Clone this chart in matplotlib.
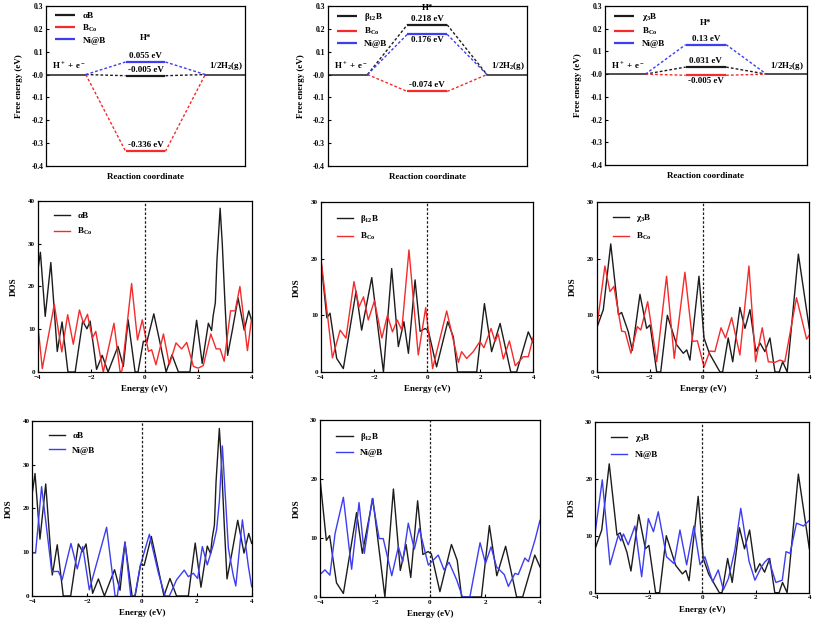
import numpy as np
import matplotlib
matplotlib.use('Agg')
import matplotlib.pyplot as plt

plt.rcParams['font.family'] = ['Liberation Serif', 'DejaVu Serif']
plt.rcParams['font.weight'] = 'bold'
plt.rcParams['axes.labelweight'] = 'bold'
plt.rcParams['mathtext.default'] = 'regular'

# ---- data: free energy of H* adsorption (eV) ----
fe_names = [['αB', 'B$_{Co}$', 'Ni@B'],
            ['β$_{12}$B', 'B$_{Co}$', 'Ni@B'],
            ['χ$_3$B', 'B$_{Co}$', 'Ni@B']]
fe_alpha = [-0.005, -0.336, 0.055]
fe_beta = [0.218, -0.074, 0.176]
fe_chi = [0.031, -0.005, 0.13]
fe_text = [['-0.005 eV', '-0.336 eV', '0.055 eV'],
           ['0.218 eV', '-0.074 eV', '0.176 eV'],
           ['0.031 eV', '-0.005 eV', '0.13 eV']]

# ---- data: DOS curves (energy, DOS) ----
alpha_x = [-4.0, -3.9, -3.72, -3.51, -3.27, -3.09, -2.87, -2.6, -2.32, -2.16, -2.04, -1.8, -1.59, -1.37,
           -1.0, -0.8, -0.62, -0.36, -0.25, -0.05, 0.08, 0.34, 0.6, 0.8, 1.02, 1.26, 1.69, 1.94, 2.15,
           2.38, 2.5, 2.56, 2.64, 2.7, 2.82, 2.9, 3.0, 3.1, 3.28, 3.49, 3.72, 3.89, 4.0]
alpha_y = [23.5, 28.0, 13.0, 25.6, 4.8, 11.7, 0, 0, 11.9, 10.1, 11.9, 0.6, 3.9, 0,
           6.0, 1.3, 12.2, 0, 0, 7.2, 7.0, 13.6, 6.0, 0, 4.0, 0, 0, 12.1, 2.0,
           11.4, 9.7, 13.2, 16.2, 26.1, 38.3, 30.0, 16.2, 3.9, 9.9, 17.3, 9.8, 14.3, 12.0]

bco_a_x = [-4.0, -3.83, -3.38, -3.1, -2.88, -2.67, -2.44, -2.29, -2.14, -1.96, -1.83, -1.55, -1.15, -0.92,
           -0.85, -0.49, -0.27, -0.09, 0.14, 0.26, 0.42, 0.7, 0.92, 1.17, 1.38, 1.57, 1.82, 2.0, 2.19,
           2.47, 2.67, 2.82, 2.97, 3.21, 3.38, 3.56, 3.84, 4.0]
bco_a_y = [11.4, 0.8, 15.8, 4.7, 13.4, 6.5, 14.5, 11.4, 13.5, 7.9, 9.5, 0, 11.4, 0,
           0.3, 20.7, 7.5, 12.2, 4.8, 5.2, 1.7, 8.9, 1.7, 6.8, 5.4, 6.9, 1.3, 0.9, 1.5,
           8.9, 5.4, 5.4, 2.5, 14.3, 14.3, 20.0, 5.0, 12.6]

ni_a_x = [-4.0, -3.88, -3.66, -3.29, -3.05, -2.91, -2.59, -2.36, -2.16, -1.92, -1.65, -1.29, -0.98, -0.9,
          -0.62, -0.41, -0.26, -0.07, 0.27, 0.6, 0.84, 1.0, 1.26, 1.54, 1.69, 1.87, 2.03, 2.2, 2.38,
          2.6, 2.72, 2.82, 2.93, 3.05, 3.15, 3.33, 3.42, 3.66, 3.88, 4.0]
ni_a_y = [9.9, 9.8, 25.0, 5.6, 5.6, 3.7, 12.0, 6.2, 11.3, 1.4, 7.5, 15.7, 0, 0,
          12.4, 0, 0, 6.7, 14.1, 5.2, 0, 0, 3.7, 5.9, 4.4, 5.2, 4.0, 11.3, 7.1,
          11.7, 15.1, 21.6, 34.3, 21.6, 10.9, 4.6, 2.3, 17.4, 6.7, 2.1]

beta_x = [-4.0, -3.77, -3.65, -3.4, -3.15, -2.67, -2.46, -2.08, -1.64, -1.33, -1.08, -0.87, -0.7, -0.45,
          -0.26, -0.07, 0.05, 0.36, 0.78, 0.99, 1.15, 1.87, 2.16, 2.43, 2.75, 3.15, 3.37, 3.81, 4.0]
beta_y = [20.1, 9.6, 10.4, 2.4, 0.6, 14.3, 7.4, 16.7, 0, 18.3, 4.5, 8.9, 3.3, 16.3,
          7.2, 7.7, 7.3, 0.9, 8.9, 6.2, 0, 0, 12.1, 3.6, 8.6, 0, 0, 7.1, 5.1]

bco_b_x = [-4.0, -3.56, -3.27, -3.05, -2.75, -2.56, -2.39, -2.21, -1.98, -1.7, -1.49, -1.3, -1.12, -0.95,
           -0.68, -0.33, -0.05, 0.21, 0.74, 1.18, 1.3, 1.49, 1.74, 1.99, 2.14, 2.41, 2.56, 2.68, 2.87,
           3.1, 3.32, 3.62, 3.81, 4.0]
bco_b_y = [20.4, 2.5, 7.4, 6.0, 16.0, 11.5, 13.3, 9.2, 12.6, 6.0, 10.0, 7.1, 9.2, 7.4,
           21.6, 3.0, 11.4, 0.6, 10.8, 1.7, 3.6, 2.4, 3.6, 5.4, 4.3, 7.7, 5.4, 6.7, 2.3,
           5.5, 1.1, 2.7, 2.7, 6.2]

ni_b_x = [-4.0, -3.82, -3.64, -3.45, -3.15, -2.85, -2.58, -2.39, -2.1, -1.85, -1.7, -1.39, -1.15, -0.99,
          -0.79, -0.57, -0.39, -0.06, 0.3, 0.51, 0.69, 0.97, 1.18, 1.45, 1.82, 2.02, 2.22, 2.42, 2.7,
          2.85, 3.09, 3.21, 3.45, 3.58, 3.82, 4.0]
ni_b_y = [3.8, 4.6, 3.7, 10.8, 16.9, 4.7, 16.0, 7.4, 16.7, 9.9, 9.9, 3.6, 8.5, 6.0,
          12.5, 8.1, 11.6, 5.4, 7.1, 4.6, 5.9, 2.9, 0, 0, 9.2, 5.7, 8.5, 5.1, 3.8,
          1.8, 4.0, 3.8, 6.6, 6.0, 9.7, 13.0]

chi_x = [-4.0, -3.75, -3.47, -3.18, -3.06, -2.81, -2.66, -2.37, -2.12, -1.99, -1.74, -1.59, -1.34, -0.99,
         -0.74, -0.61, -0.49, -0.15, 0.04, 0.24, 0.64, 0.74, 0.95, 1.12, 1.39, 1.58, 1.77, 1.99, 2.15,
         2.33, 2.52, 2.71, 2.87, 3.0, 3.17, 3.59, 4.0]
chi_y = [7.7, 11.0, 22.6, 10.1, 10.5, 7.1, 3.8, 13.7, 7.7, 8.3, 0, 0, 10.0, 4.8,
         3.3, 3.9, 2.1, 16.9, 6.0, 3.3, 0, 0, 6.0, 1.8, 11.4, 7.7, 11.0, 3.6, 5.1,
         3.6, 6.0, 0, 0, 1.8, 0, 20.8, 7.7]

bco_c_x = [-4.0, -3.69, -3.5, -3.35, -3.06, -2.93, -2.71, -2.47, -2.34, -2.08, -1.74, -1.37, -1.08, -0.68,
           -0.39, -0.21, 0.04, 0.26, 0.45, 0.68, 0.85, 1.08, 1.39, 1.73, 1.98, 2.23, 2.46, 2.71, 2.9,
           3.08, 3.52, 3.9, 4.0]
bco_c_y = [7.7, 18.7, 14.2, 15.1, 7.2, 7.1, 3.3, 8.0, 7.4, 12.4, 1.8, 16.9, 2.4, 17.6,
           5.4, 5.5, 0.9, 3.7, 3.6, 7.8, 6.0, 9.6, 3.0, 18.7, 1.8, 7.8, 1.8, 1.7, 2.1,
           1.8, 13.1, 5.8, 6.5]

ni_c_x = [-4.0, -3.73, -3.44, -3.13, -3.04, -2.94, -2.76, -2.51, -2.26, -2.01, -1.82, -1.64, -1.33, -1.05,
          -0.83, -0.58, -0.31, -0.08, 0.1, 0.39, 0.6, 0.79, 0.98, 1.22, 1.44, 1.75, 1.97, 2.22, 2.34,
          2.47, 2.75, 2.99, 3.13, 3.28, 3.52, 3.78, 4.0]
ni_c_y = [10.4, 19.8, 4.9, 10.1, 9.1, 10.3, 8.4, 11.7, 2.8, 13.0, 10.7, 14.2, 6.3, 5.1,
          11.0, 4.9, 11.7, 4.9, 6.3, 1.9, 4.0, 0.5, 2.5, 7.5, 14.8, 5.5, 2.2, 4.6, 5.4,
          6.0, 1.8, 2.2, 7.2, 6.9, 12.2, 11.7, 12.7]

BLACK = '#1c1c1c'
RED = '#f52a2a'
BLUE = '#3d3df2'


def style_axes(ax, fs=5.5):
    ax.tick_params(direction='in', length=2.5, width=0.8, labelsize=fs, pad=2)
    for lab in ax.get_xticklabels() + ax.get_yticklabels():
        lab.set_fontweight('bold')
    for sp in ax.spines.values():
        sp.set_linewidth(0.9)


# free energy diagram
def draw_fe(ax, names, values, texts, sides, hstar_y):
    colors = [BLACK, RED, BLUE]
    ax.plot([0, 1], [0, 0], color=BLACK, lw=1.1)
    ax.plot([4, 5], [0, 0], color=BLACK, lw=1.1)
    for name, v, c, t, s in zip(names, values, colors, texts, sides):
        ax.plot([1, 2], [0, v], color=c, lw=1.0, ls=(0, (2, 1.5)))
        ax.plot([3, 4], [v, 0], color=c, lw=1.0, ls=(0, (2, 1.5)))
        ax.plot([2, 3], [v, v], color=c, lw=1.6, label=name, solid_capstyle='butt')
        off = 1.5 if s == 'up' else -1.5
        ax.annotate(t, (2.5, v), xytext=(0, off), textcoords='offset points',
                    ha='center', va='bottom' if s == 'up' else 'top', fontsize=6.5, fontweight='bold')
    ax.text(2.5, hstar_y, 'H*', ha='center', va='center', fontsize=6.5, fontweight='bold')
    ax.annotate('H$^+$ + e$^-$', (0.15, 0), xytext=(0, 1.5), textcoords='offset points',
                ha='left', va='bottom', fontsize=6.5, fontweight='bold')
    ax.annotate('1/2H$_2$(g)', (4.1, 0), xytext=(0, 1.5), textcoords='offset points',
                ha='left', va='bottom', fontsize=6.5, fontweight='bold')
    ax.set_xlim(0, 5)
    ax.set_ylim(-0.4, 0.3)
    ax.set_yticks(np.arange(-0.4, 0.31, 0.1))
    ax.yaxis.set_major_formatter(plt.FuncFormatter(lambda v, p: '%.1f' % v))
    ax.set_xticks([])
    ax.set_xlabel('Reaction coordinate', fontsize=6.5, labelpad=5)
    ax.set_ylabel('Free energy (eV)', fontsize=6.5, labelpad=6)
    ax.legend(loc='upper left', frameon=False, fontsize=6.5, handlelength=2.2,
              labelspacing=0.3, borderaxespad=0.2, bbox_to_anchor=(0.02, 1.0))
    style_axes(ax)


# DOS panel
def draw_dos(ax, x1, y1, lab1, x2, y2, lab2, c2, ymax):
    ax.plot(x1, y1, color=BLACK, lw=1.0, label=lab1, solid_joinstyle='round')
    ax.plot(x2, y2, color=c2, lw=1.0, label=lab2, solid_joinstyle='round')
    ax.axvline(0, color=BLACK, lw=0.9, ls=(0, (2, 1.5)))
    ax.set_xlim(-4, 4)
    ax.set_ylim(0, ymax)
    ax.set_xticks([-4, -2, 0, 2, 4])
    ax.set_yticks(np.arange(0, ymax + 1, 10))
    ax.set_xlabel('Energy (eV)', fontsize=6.5, labelpad=4)
    ax.set_ylabel('DOS', fontsize=6.5, labelpad=7)
    ax.legend(loc='upper left', frameon=False, fontsize=6.5, handlelength=1.8,
              labelspacing=0.7, borderaxespad=0.2, bbox_to_anchor=(0.05, 0.97))
    style_axes(ax, 5)


fig = plt.figure(figsize=(8.13, 6.29), dpi=100)

# row 1
ax1 = fig.add_axes([0.0566, 0.7361, 0.2448, 0.2544])
draw_fe(ax1, fe_names[0], fe_alpha, fe_text[0], ['up', 'up', 'up'], 0.159)
ax2 = fig.add_axes([0.4031, 0.7361, 0.2448, 0.2544])
draw_fe(ax2, fe_names[1], fe_beta, fe_text[1], ['up', 'up', 'down'], 0.29)
ax3 = fig.add_axes([0.7442, 0.7377, 0.2481, 0.2528])
draw_fe(ax3, fe_names[2], fe_chi, fe_text[2], ['up', 'down', 'up'], 0.227)

# row 2
ax4 = fig.add_axes([0.0464, 0.4086, 0.2632, 0.2719])
draw_dos(ax4, alpha_x, alpha_y, 'αB', bco_a_x, bco_a_y, 'B$_{Co}$', RED, 40)
ax5 = fig.add_axes([0.3945, 0.4086, 0.2615, 0.2695])
draw_dos(ax5, beta_x, beta_y, 'β$_{12}$B', bco_b_x, bco_b_y, 'B$_{Co}$', RED, 30)
ax6 = fig.add_axes([0.7339, 0.4086, 0.2615, 0.2703])
draw_dos(ax6, chi_x, chi_y, 'χ$_3$B', bco_c_x, bco_c_y, 'B$_{Co}$', RED, 30)

# row 3
ax7 = fig.add_axes([0.0397, 0.0525, 0.2699, 0.2782])
draw_dos(ax7, alpha_x, alpha_y, 'αB', ni_a_x, ni_a_y, 'Ni@B', BLUE, 40)
ax8 = fig.add_axes([0.3936, 0.0509, 0.2706, 0.2814])
draw_dos(ax8, beta_x, beta_y, 'β$_{12}$B', ni_b_x, ni_b_y, 'Ni@B', BLUE, 30)
ax9 = fig.add_axes([0.7319, 0.0577, 0.2636, 0.2719])
draw_dos(ax9, chi_x, chi_y, 'χ$_3$B', ni_c_x, ni_c_y, 'Ni@B', BLUE, 30)

fig.savefig('out.png', dpi=100)
